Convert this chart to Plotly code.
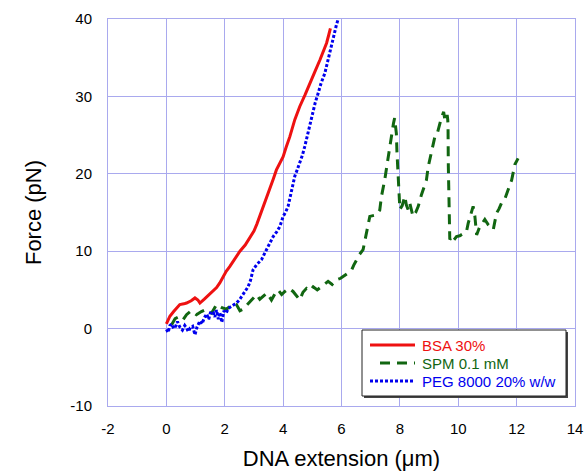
import plotly.graph_objects as go

# BSA 30%
bsa_x = [0.0, 0.03, 0.12, 0.25, 0.46, 0.6, 0.69, 0.85, 0.98, 1.08, 1.15, 1.3, 1.45, 1.6, 1.72, 1.83, 1.95, 2.05, 2.17, 2.3, 2.42, 2.52, 2.7, 2.86, 3.0, 3.1, 3.2, 3.37, 3.54, 3.66, 3.77, 3.88, 4.0, 4.1, 4.23, 4.4, 4.57, 4.75, 4.91, 5.1, 5.26, 5.38, 5.49, 5.56, 5.62]
bsa_y = [0.6, 0.9, 1.6, 2.2, 3.1, 3.2, 3.3, 3.6, 3.96, 3.7, 3.3, 3.8, 4.3, 4.8, 5.3, 5.9, 6.8, 7.4, 8.0, 8.8, 9.5, 10.0, 10.8, 11.7, 12.6, 13.5, 14.5, 16.2, 17.9, 19.3, 20.5, 21.3, 22.2, 23.4, 24.8, 27.0, 28.7, 30.2, 31.7, 33.3, 34.7, 35.8, 36.9, 37.9, 38.8]

# SPM 0.1 mM
spm_x = [0.18, 0.3, 0.46, 0.58, 0.69, 0.85, 1.03, 1.2, 1.38, 1.55, 1.72, 1.9, 2.06, 2.22, 2.4, 2.52, 2.63, 2.75, 2.86, 3.0, 3.09, 3.2, 3.31, 3.45, 3.6, 3.72, 3.83, 3.95, 4.06, 4.2, 4.34, 4.46, 4.57, 4.68, 4.8, 4.92, 5.03, 5.17, 5.31, 5.42, 5.54, 5.68, 5.83, 5.97, 6.11, 6.22, 6.34, 6.42, 6.51, 6.62, 6.74, 6.83, 6.9, 6.97, 7.08, 7.2, 7.31, 7.37, 7.48, 7.6, 7.71, 7.78, 7.82, 7.86, 7.88, 7.9, 7.92, 7.96, 8.0, 8.08, 8.17, 8.22, 8.28, 8.34, 8.4, 8.45, 8.54, 8.63, 8.74, 8.83, 8.91, 8.97, 9.08, 9.2, 9.28, 9.35, 9.42, 9.5, 9.54, 9.58, 9.62, 9.64, 9.65, 9.66, 9.68, 9.7, 9.71, 9.76, 9.82, 9.88, 9.94, 10.05, 10.17, 10.28, 10.34, 10.42, 10.51, 10.57, 10.63, 10.68, 10.74, 10.82, 10.91, 11.03, 11.12, 11.2, 11.25, 11.31, 11.4, 11.48, 11.6, 11.71, 11.83, 11.94, 12.05]
spm_y = [0.5, 1.3, 1.6, 1.2, 1.8, 2.3, 1.8, 2.2, 2.5, 2.0, 3.1, 2.7, 2.5, 3.0, 3.1, 2.3, 2.5, 3.0, 3.4, 3.9, 4.4, 3.8, 4.2, 4.6, 3.7, 4.5, 5.0, 4.4, 4.8, 5.2, 4.8, 4.2, 3.7, 4.7, 5.2, 4.9, 5.4, 5.0, 5.4, 5.8, 6.1, 5.7, 6.3, 6.5, 6.9, 7.2, 7.5, 8.2, 8.9, 9.6, 10.2, 11.9, 12.8, 14.5, 14.6, 14.7, 15.3, 17.1, 19.2, 22.2, 25.2, 26.5, 27.2, 26.2, 25.2, 22.8, 20.9, 17.5, 15.4, 15.9, 17.1, 16.0, 15.4, 16.2, 15.3, 14.5, 15.0, 15.8, 17.3, 18.2, 19.2, 20.9, 22.7, 24.8, 25.2, 26.3, 27.2, 28.0, 27.0, 26.8, 27.6, 27.0, 26.2, 21.0, 16.6, 13.5, 11.5, 11.8, 11.3, 11.6, 11.9, 12.0, 12.3, 12.5, 13.6, 14.8, 15.8, 14.5, 12.1, 12.6, 13.2, 13.6, 14.1, 13.4, 13.0, 12.8, 13.8, 14.9, 15.5, 16.2, 16.8, 17.9, 19.2, 21.2, 22.0]

# PEG 8000 20% w/w
peg_x = [0.0, 0.06, 0.12, 0.18, 0.25, 0.32, 0.38, 0.46, 0.55, 0.63, 0.7, 0.75, 0.82, 0.9, 0.98, 1.05, 1.15, 1.22, 1.3, 1.38, 1.45, 1.52, 1.6, 1.66, 1.72, 1.78, 1.83, 1.9, 1.97, 2.05, 2.12, 2.2, 2.3, 2.4, 2.5, 2.63, 2.72, 2.8, 2.88, 2.97, 3.1, 3.26, 3.35, 3.43, 3.55, 3.66, 3.78, 3.89, 4.0, 4.08, 4.17, 4.29, 4.4, 4.48, 4.57, 4.66, 4.74, 4.82, 4.91, 4.97, 5.03, 5.1, 5.2, 5.3, 5.43, 5.55, 5.66, 5.72, 5.77, 5.83, 5.88]
peg_y = [-0.1, -0.5, 0.4, 0.6, 0.0, 0.3, 0.9, 0.2, -0.2, 0.4, 0.0, -0.4, 0.1, 0.3, -0.8, 0.2, 1.0, 0.6, 1.4, 1.9, 1.2, 2.2, 2.1, 1.5, 2.4, 1.2, 2.1, 0.8, 2.3, 2.0, 2.6, 2.8, 3.0, 3.3, 3.7, 4.4, 4.9, 5.4, 6.2, 7.6, 8.3, 8.9, 9.6, 10.2, 11.0, 11.9, 12.5, 13.2, 14.5, 15.0, 15.8, 17.7, 19.7, 20.5, 21.4, 22.4, 23.5, 24.8, 26.5, 27.3, 28.3, 29.2, 30.4, 31.7, 33.0, 34.9, 36.9, 37.6, 38.6, 39.3, 39.9]

series_names = ["BSA 30%", "SPM 0.1 mM", "PEG 8000 20% w/w"]
series_colors = ["#ee1111", "#116611", "#0000ee"]

x_ticks = [-2, 0, 2, 4, 6, 8, 10, 12, 14]
x_tick_text = ["-2", "0", "2", "4", "6", "8", "10", "12", "14"]
y_ticks = [-10, 0, 10, 20, 30, 40]
y_tick_text = ["-10", "0", "10", "20", "30", "40"]

GRID = "#a9a9ee"
L, R, T, B = 108, 575, 19, 406  # plot area in pixels
W, H = 588, 475


def px(xp):
    return (xp - L) / (R - L)


def py(yp):
    return (B - yp) / (B - T)


fig = go.Figure()
fig.add_trace(go.Scatter(x=bsa_x, y=bsa_y, mode="lines", name=series_names[0],
                         line=dict(color=series_colors[0], width=3)))
fig.add_trace(go.Scatter(x=spm_x, y=spm_y, mode="lines", name=series_names[1],
                         line=dict(color=series_colors[1], width=3, dash="10px,7px")))
fig.add_trace(go.Scatter(x=peg_x, y=peg_y, mode="lines", name=series_names[2],
                         line=dict(color=series_colors[2], width=3, dash="3px,2px")))

fig.update_layout(
    width=W, height=H,
    margin=dict(l=L, r=W - R, t=T, b=H - B),
    paper_bgcolor="white", plot_bgcolor="white",
    font=dict(family="Arial, Liberation Sans", color="black"),
    showlegend=False,
    xaxis=dict(range=[-2, 14], tickvals=x_ticks, ticktext=x_tick_text, showgrid=True, gridcolor=GRID,
               zeroline=False, showline=True, linecolor=GRID, mirror=True,
               ticks="outside", ticklen=9, tickcolor="rgba(0,0,0,0)",
               tickfont=dict(size=15), automargin=False,
               title=dict(text="DNA extension (μm)", font=dict(size=22), standoff=14)),
    yaxis=dict(range=[-10, 40], tickvals=y_ticks, ticktext=y_tick_text, showgrid=True, gridcolor=GRID,
               zeroline=False, showline=True, linecolor=GRID, mirror=True,
               ticks="outside", ticklen=12, tickcolor="rgba(0,0,0,0)",
               tickfont=dict(size=15), automargin=False,
               title=dict(text="Force (pN)", font=dict(size=22), standoff=22)),
)

# legend box (with shadow on right / bottom)
fig.add_shape(type="rect", xref="paper", yref="paper",
              x0=px(364), x1=px(568), y0=py(398), y1=py(332),
              fillcolor="#444444", line=dict(width=0), layer="above")
fig.add_shape(type="rect", xref="paper", yref="paper",
              x0=px(362), x1=px(566), y0=py(396), y1=py(330),
              fillcolor="white", line=dict(color="#222222", width=1), layer="above")

legend_rows = [345, 363, 381]
legend_dash = ["solid", "10px,7px", "3px,2px"]
legend_x0 = [370, 380, 370]
for name, color, dash, yrow, x0 in zip(series_names, series_colors, legend_dash, legend_rows, legend_x0):
    fig.add_shape(type="line", xref="paper", yref="paper",
                  x0=px(x0), x1=px(415), y0=py(yrow), y1=py(yrow),
                  line=dict(color=color, width=3, dash=dash), layer="above")
    fig.add_annotation(xref="paper", yref="paper", x=px(420), y=py(yrow),
                       xanchor="left", yanchor="middle", showarrow=False,
                       text=name, font=dict(size=15, color=color))

fig.write_html("out.html")
